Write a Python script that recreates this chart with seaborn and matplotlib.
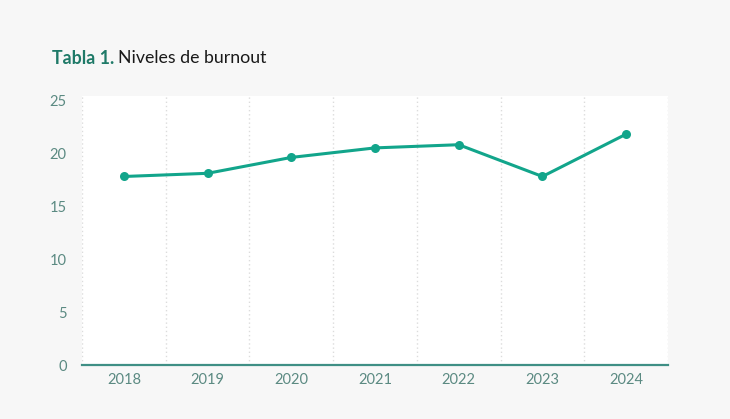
import matplotlib
matplotlib.use("Agg")
import matplotlib.pyplot as plt
import seaborn as sns
import pandas as pd

years = ["2018", "2019", "2020", "2021", "2022", "2023", "2024"]
burnout = [17.8, 18.1, 19.6, 20.5, 20.8, 17.8, 21.8]
y_ticks = [0, 5, 10, 15, 20, 25]

sns.set_theme(style="white")
plt.rcParams['font.family'] = ['Lato', 'DejaVu Sans']

df = pd.DataFrame({"year": years, "value": burnout})

fig = plt.figure(figsize=(7.3, 4.19), dpi=100, facecolor="#f7f7f7")
ax = fig.add_axes([82/730, 1-365/419, (668-82)/730, (365-96)/419])
ax.set_facecolor("white")

line_c = "#12a58b"
sns.lineplot(data=df, x="year", y="value", ax=ax, color=line_c, linewidth=2.2,
             marker="o", markersize=6.5, markeredgewidth=0, sort=False)

ax.set_xlim(-0.5, len(years) - 0.5)
ax.set_ylim(0, 25.4)
ax.set_yticks(y_ticks)
ax.set_xticks(range(len(years)))
ax.set_xticklabels(years)
for b in [i - 0.5 for i in range(len(years) + 1)]:
    ax.axvline(b, color="#dcdcdc", linestyle=(0, (1, 2)), linewidth=1, zorder=0)

tick_c = "#5b8a82"
ax.tick_params(axis="both", length=0, labelsize=10.5, colors=tick_c)
ax.tick_params(axis="x", pad=6)
ax.tick_params(axis="y", pad=11)
ax.set_xlabel("")
ax.set_ylabel("")
for s in ["top", "right", "left"]:
    ax.spines[s].set_visible(False)
ax.spines["bottom"].set_color("#3f8f85")
ax.spines["bottom"].set_linewidth(1.6)

t1 = fig.text(52/730, 1-58/419, "Tabla 1.", fontsize=12.8, fontweight="bold",
              color="#1f7a68", va="center", ha="left")
fig.canvas.draw()
bb = t1.get_window_extent()
fig.text((bb.x1 + 4)/730, 1-58/419, "Niveles de burnout", fontsize=12.8,
         color="#1a1a1a", va="center", ha="left")

fig.savefig("out.png", dpi=100, facecolor=fig.get_facecolor())
